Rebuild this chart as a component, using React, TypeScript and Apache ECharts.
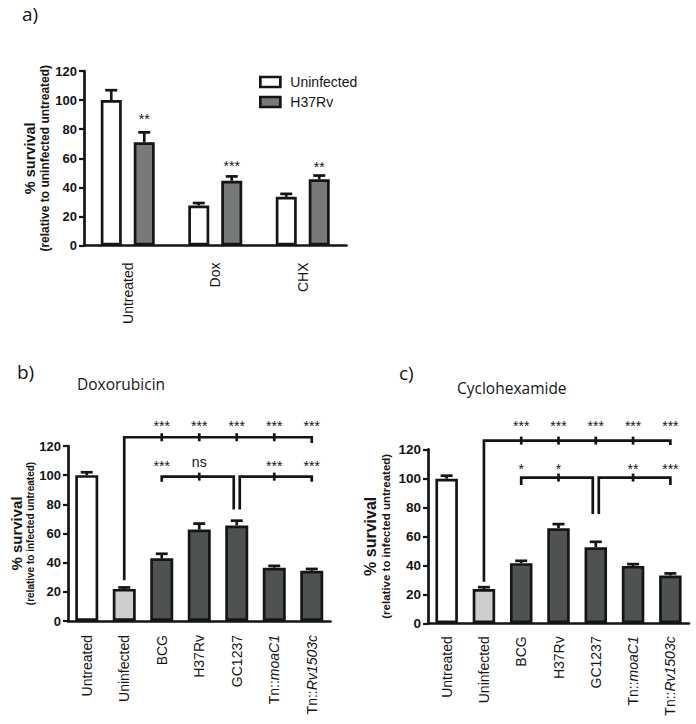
import React, { useEffect, useRef } from 'react';
import * as echarts from 'echarts';

const FONT = '"Liberation Sans", Arial, Helvetica, sans-serif';
const TITLE_FONT = '"Open Sans", "Noto Sans", sans-serif';
const INK = '#151515';
const LW = 2.7;

// ---------- a) grouped bars ----------
const treatmentCategories = ['Untreated', 'Dox', 'CHX'];
const uninfectedSurvival = [100, 27.5, 33.5];
const uninfectedError = [6.8, 1.7, 2];
const h37rvSurvival = [71, 44.5, 45.5];
const h37rvError = [6.8, 3, 2.6];
const h37rvSignificance = ['**', '***', '**'];
const h37rvSignificanceAt = [89, 56.5, 56];

// ---------- b) / c) strains ----------
const strainCategories = ['Untreated', 'Uninfected', 'BCG', 'H37Rv', 'GC1237', 'Tn::moaC1', 'Tn::Rv1503c'];
const doxSurvival = [100, 22, 43, 62.7, 65.5, 36.5, 34.4];
const doxError = [2, 1, 3.1, 4.1, 3.3, 1.3, 1.3];
const doxVsUninfected = ['***', '***', '***', '***', '***'];
const doxVsGC1237 = ['***', 'ns', '', '***', '***'];
const chxSurvival = [99.7, 23.7, 41.5, 65.6, 52.5, 39.6, 33];
const chxError = [2.1, 1.2, 1.6, 2.8, 3.7, 1.2, 1.4];
const chxVsUninfected = ['***', '***', '***', '***', '***'];
const chxVsGC1237 = ['*', '*', '', '**', '***'];

// bracket heights (axis units)
const doxBrackets = { upper: 126, upperLeftFoot: 28, upperRightFoot: 122, upperText: 136, lower: 99, lowerFoot: 95.5, centerFoot: 76.5, lowerText: 108.5 };
const chxBrackets = { upper: 126, upperLeftFoot: 28.7, upperRightFoot: 123, upperText: 138, lower: 100.5, lowerFoot: 95.4, centerFoot: 75.4, lowerText: 108.5 };

const lineStyle = { stroke: INK, lineWidth: LW, fill: null as any };

function sigText(txt: string, x: number, y: number) {
  return {
    type: 'text',
    x,
    y,
    style: { text: txt, fontSize: 14, fontFamily: FONT, fill: INK, align: 'center', verticalAlign: 'middle', textAlign: 'center', textVerticalAlign: 'middle' },
  };
}

function errorSeries(gi: number, values: number[], errors: number[], offset: number, capW: number, labels?: string[], labelAt?: number[]) {
  return {
    type: 'custom',
    xAxisIndex: gi,
    yAxisIndex: gi,
    z: 4,
    silent: true,
    encode: { x: 0, y: 1 },
    data: values.map((v, i) => [i, v, errors[i]]),
    renderItem: (params: any, api: any) => {
      const i = api.value(0);
      const v = api.value(1);
      const e = api.value(2);
      const base = api.coord([i, v]);
      const top = api.coord([i, v + e]);
      const x = base[0] + offset;
      const children: any[] = [
        { type: 'line', shape: { x1: x, y1: base[1], x2: x, y2: top[1] }, style: { stroke: INK, lineWidth: LW } },
        { type: 'line', shape: { x1: x - capW / 2, y1: top[1], x2: x + capW / 2, y2: top[1] }, style: { stroke: INK, lineWidth: LW } },
      ];
      if (labels && labelAt) {
        const p = api.coord([i, labelAt[i]]);
        children.push(sigText(labels[i], x, p[1] + 3));
      }
      return { type: 'group', children };
    },
  };
}

function bracketSeries(gi: number, b: any, vsUninf: string[], vsGC: string[]) {
  return {
    type: 'custom',
    xAxisIndex: gi,
    yAxisIndex: gi,
    z: 5,
    silent: true,
    encode: { x: 0, y: 1 },
    data: [[0, 0]],
    renderItem: (params: any, api: any) => {
      const P = (c: number, v: number) => api.coord([c, v]);
      const children: any[] = [];
      const yU = P(0, b.upper)[1];
      children.push({
        type: 'polyline',
        shape: { points: [P(1, b.upperLeftFoot), P(1, b.upper), P(6, b.upper), P(6, b.upperRightFoot)] },
        style: lineStyle,
      });
      [2, 3, 4, 5].forEach((c) => {
        const x = P(c, 0)[0];
        children.push({ type: 'line', shape: { x1: x, y1: yU - 4, x2: x, y2: yU + 4 }, style: { stroke: INK, lineWidth: LW } });
      });
      const xC = P(4, 0)[0];
      const yL = P(0, b.lower)[1];
      const yCF = P(0, b.centerFoot)[1];
      children.push({
        type: 'polyline',
        shape: { points: [P(2, b.lowerFoot), P(2, b.lower), [xC - 3, yL], [xC - 3, yCF]] },
        style: lineStyle,
      });
      children.push({
        type: 'polyline',
        shape: { points: [[xC + 3, yCF], [xC + 3, yL], P(6, b.lower), P(6, b.lowerFoot)] },
        style: lineStyle,
      });
      [3, 5].forEach((c) => {
        const x = P(c, 0)[0];
        children.push({ type: 'line', shape: { x1: x, y1: yL - 4, x2: x, y2: yL + 4 }, style: { stroke: INK, lineWidth: LW } });
      });
      const addText = (txt: string, c: number, v: number) => {
        if (!txt) return;
        const p = P(c, v);
        children.push(sigText(txt, p[0], p[1] + (txt === 'ns' ? -1 : 3)));
      };
      vsUninf.forEach((t, k) => addText(t, k + 2, b.upperText));
      vsGC.forEach((t, k) => addText(t, k + 2, b.lowerText));
      return { type: 'group', children };
    },
  };
}

function xAxis(gi: number, data: string[], margin: number) {
  return {
    type: 'category',
    gridIndex: gi,
    data,
    axisLine: { lineStyle: { color: INK, width: LW } },
    axisTick: { alignWithLabel: true, length: 6, lineStyle: { color: INK, width: 2.2 } },
    axisLabel: {
      rotate: 90,
      interval: 0,
      margin,
      fontSize: 14,
      fontFamily: FONT,
      color: INK,
      formatter: (v: string) => (v.startsWith('Tn::') ? 'Tn::{i|' + v.slice(4) + '}' : v),
      rich: { i: { fontStyle: 'italic', fontSize: 14, fontFamily: FONT, color: INK } },
    },
  };
}

function yAxis(gi: number, sub: string, s1: number, s2: number, labelSize: number, nameGap: number, lh1: number, lh2: number) {
  return {
    type: 'value',
    gridIndex: gi,
    min: 0,
    max: 120,
    interval: 20,
    splitLine: { show: false },
    axisLine: { show: true, lineStyle: { color: INK, width: LW } },
    axisTick: { show: true, length: 5, lineStyle: { color: INK, width: 2.2 } },
    axisLabel: { fontSize: labelSize, fontWeight: 'bold', fontFamily: FONT, color: INK, margin: 7 },
    name: '{a|% survival}\n{b|' + sub + '}',
    nameLocation: 'middle',
    nameRotate: 90,
    nameGap,
    nameTextStyle: {
      rich: {
        a: { fontSize: s1, fontWeight: 'bold', fontFamily: FONT, color: INK, lineHeight: lh1, align: 'center' },
        b: { fontSize: s2, fontWeight: 'bold', fontFamily: FONT, color: INK, lineHeight: lh2, align: 'center' },
      },
    },
  };
}

const barBorder = { borderColor: INK, borderWidth: LW };
const strainColor = (i: number) => (i === 0 ? '#ffffff' : i === 1 ? '#cdcdcd' : '#4f5252');

function panelText(text: string, x: number, y: number, size: number) {
  return {
    type: 'text',
    x,
    y,
    style: { text, fontSize: size, fontFamily: TITLE_FONT, fill: INK, align: 'left', verticalAlign: 'middle', textAlign: 'left', textVerticalAlign: 'middle' },
  };
}

export default function App() {
  const ref = useRef<HTMLDivElement>(null);
  useEffect(() => {
    if (!ref.current) return;
    const chart = echarts.init(ref.current, undefined, { renderer: 'svg' });
    chart.setOption({
      animation: false,
      backgroundColor: '#ffffff',
      legend: {
        data: ['Uninfected', 'H37Rv'],
        orient: 'vertical',
        left: 254,
        top: 70,
        itemWidth: 20,
        itemHeight: 10,
        itemGap: 6,
        icon: 'rect',
        selectedMode: false,
        itemStyle: { borderColor: INK, borderWidth: LW },
        textStyle: { fontSize: 14, fontFamily: FONT, color: INK, padding: [0, 0, 0, 5] },
      },
      grid: [
        { left: 84, top: 71, width: 262.5, height: 174.5 },
        { left: 68, top: 446, width: 262.5, height: 175 },
        { left: 428, top: 449.3, width: 261, height: 174 },
      ],
      xAxis: [xAxis(0, treatmentCategories, 17), xAxis(1, strainCategories, 14), xAxis(2, strainCategories, 13)],
      yAxis: [
        yAxis(0, '(relative to uninfected untreated)', 14.5, 12, 13, 31, 17, 14),
        yAxis(1, '(relative to infected untreated)', 15, 10, 13, 30, 17, 11),
        yAxis(2, '(relative to infected untreated)', 16, 11.5, 13.5, 35, 18, 14),
      ],
      graphic: [
        panelText('a)', 22, 14, 19),
        panelText('b)', 17, 372, 19),
        panelText('Doxorubicin', 77, 384, 15.5),
        panelText('c)', 399, 373, 19),
        panelText('Cyclohexamide', 457, 388, 15.5),
      ],
      series: [
        {
          name: 'Uninfected',
          type: 'bar',
          xAxisIndex: 0,
          yAxisIndex: 0,
          data: uninfectedSurvival,
          barWidth: 21,
          barGap: '57%',
          itemStyle: { color: '#ffffff', ...barBorder },
        },
        {
          name: 'H37Rv',
          type: 'bar',
          xAxisIndex: 0,
          yAxisIndex: 0,
          data: h37rvSurvival,
          barWidth: 21,
          barGap: '57%',
          itemStyle: { color: '#777a7a', ...barBorder },
        },
        errorSeries(0, uninfectedSurvival, uninfectedError, -16.5, 12),
        errorSeries(0, h37rvSurvival, h37rvError, 16.5, 12, h37rvSignificance, h37rvSignificanceAt),
        {
          name: 'Doxorubicin',
          type: 'bar',
          xAxisIndex: 1,
          yAxisIndex: 1,
          barWidth: 23,
          data: doxSurvival.map((v, i) => ({ value: v, itemStyle: { color: strainColor(i), ...barBorder } })),
        },
        errorSeries(1, doxSurvival, doxError, 0, 12),
        bracketSeries(1, doxBrackets, doxVsUninfected, doxVsGC1237),
        {
          name: 'Cyclohexamide',
          type: 'bar',
          xAxisIndex: 2,
          yAxisIndex: 2,
          barWidth: 22.5,
          data: chxSurvival.map((v, i) => ({ value: v, itemStyle: { color: strainColor(i), ...barBorder } })),
        },
        errorSeries(2, chxSurvival, chxError, 0, 12),
        bracketSeries(2, chxBrackets, chxVsUninfected, chxVsGC1237),
      ],
    });
    return () => chart.dispose();
  }, []);
  return <div ref={ref} style={{ position: 'absolute', left: 0, top: 0, width: 696, height: 724, background: '#fff' }} />;
}
